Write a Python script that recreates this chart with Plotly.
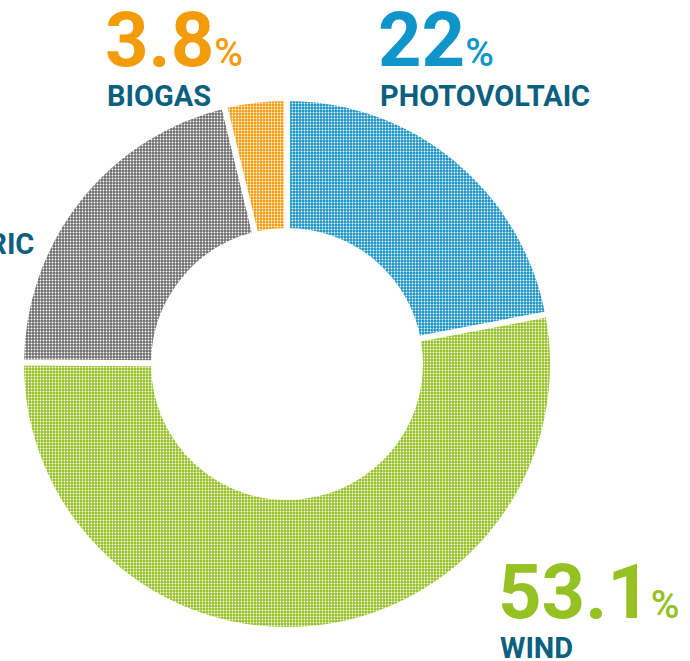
import plotly.graph_objects as go

# Share of installed renewable capacity by source
sources = ["PHOTOVOLTAIC", "WIND", "HYDROELECTRIC", "BIOGAS"]
shares = [22.0, 53.1, 21.1, 3.8]
slice_colors = ["#1694c6", "#94c120", "#6c6c6c", "#f29c0c"]
number_colors = ["#0f95c9", "#95c123", "#6c6c6c", "#f39c0b"]
share_labels = ["22", "53.1", "21.1", "3.8"]

LABEL_COLOR = "#0b6080"
W, H = 690, 661

# Donut geometry in pixels (centre and outer radius of the slice paths)
cx, cy, R = 287, 364, 266

fig = go.Figure(
    go.Pie(
        labels=sources,
        values=shares,
        sort=False,
        direction="clockwise",
        rotation=0,
        hole=0.5,
        textinfo="none",
        hoverinfo="label+percent",
        showlegend=False,
        marker=dict(
            colors=slice_colors,
            line=dict(color="white", width=6),
            pattern=dict(
                shape=".",
                fgcolor="white",
                bgcolor=slice_colors,
                size=3,
                solidity=0.3,
                fillmode="replace",
            ),
        ),
        domain=dict(
            x=[(cx - R) / W, (cx + R) / W],
            y=[(H - cy - R) / H, (H - cy + R) / H],
        ),
    )
)

# Label anchor points (pixel coordinates of the top-left of each block)
label_pos = {
    "PHOTOVOLTAIC": (380, 12, "left"),
    "WIND": (500, 564, "left"),
    "HYDROELECTRIC": (35, 160, "right"),
    "BIOGAS": (107, 12, "left"),
}


def px(x):
    return x / W


def py(y):
    return 1 - y / H


annotations = []
for name, num, col in zip(sources, share_labels, number_colors):
    x0, y0, side = label_pos[name]
    ax = x0 - 4 if side == "left" else x0 - 235
    annotations.append(
        dict(
            text=f"{num}<span style='font-size:39px;font-weight:500'>%</span>",
            x=px(ax),
            y=py(y0 - 19),
            xref="paper",
            yref="paper",
            xanchor="left",
            yanchor="top",
            showarrow=False,
            font=dict(family="Roboto", size=76, color=col, weight=700),
        )
    )
    annotations.append(
        dict(
            text=name,
            x=px(x0 + 1) if side == "right" else px(x0 - 2),
            y=py(y0 + 65),
            xref="paper",
            yref="paper",
            xanchor="right" if side == "right" else "left",
            yanchor="top",
            showarrow=False,
            font=dict(family="Roboto", size=29, color=LABEL_COLOR, weight=700),
        )
    )

fig.update_layout(
    width=W,
    height=H,
    margin=dict(l=0, r=0, t=0, b=0),
    paper_bgcolor="white",
    plot_bgcolor="white",
    annotations=annotations,
)

fig.write_html("out.html")
